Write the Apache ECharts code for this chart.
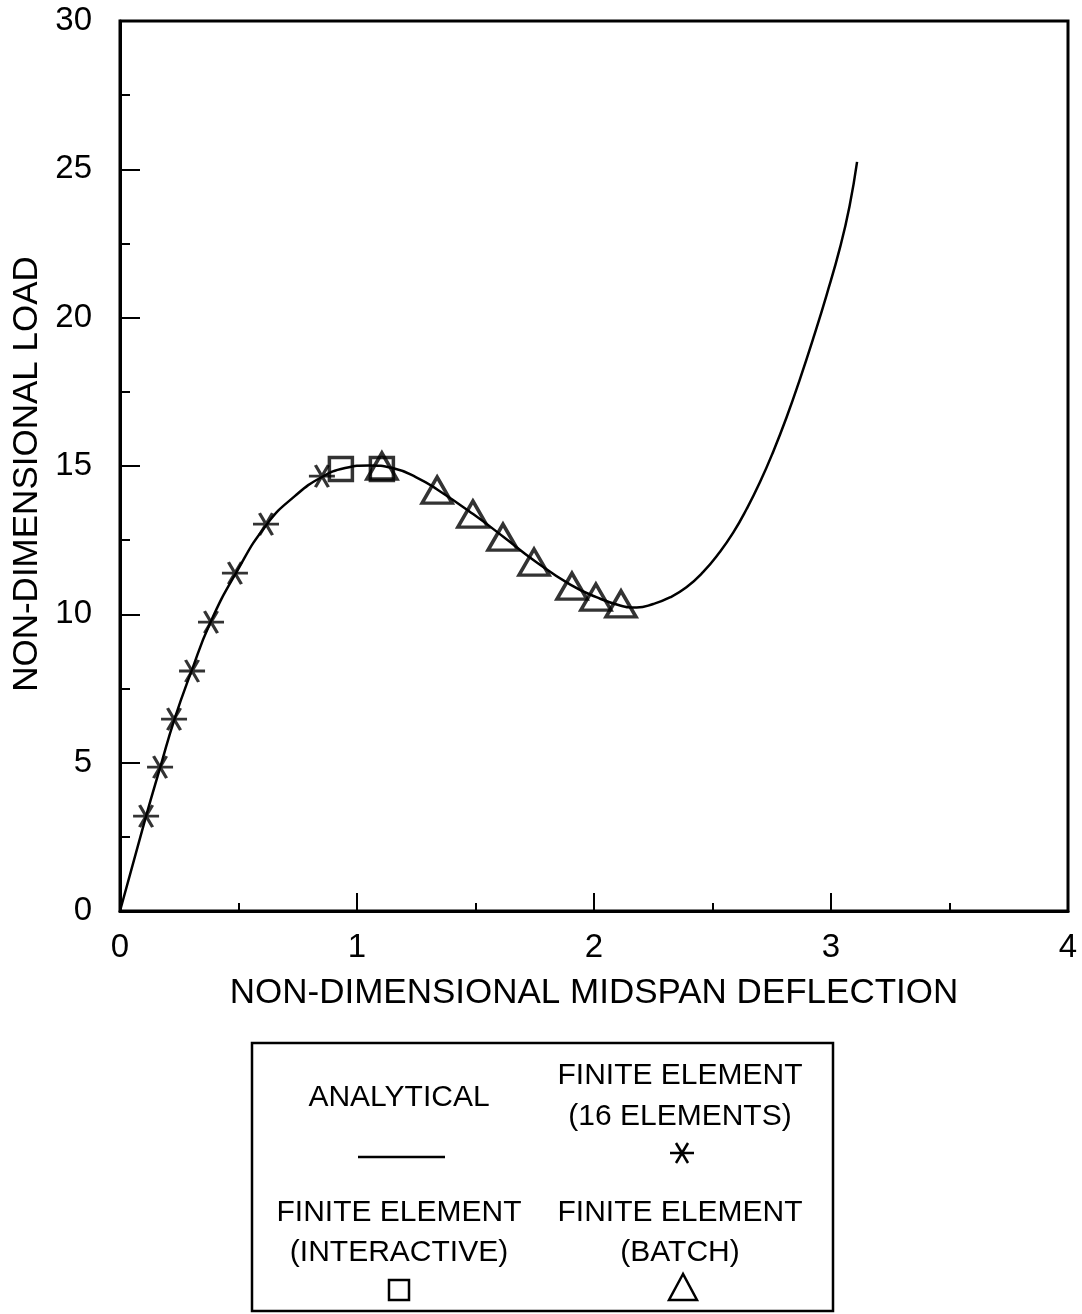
<!DOCTYPE html>
<html>
<head>
<meta charset="utf-8">
<script src="https://cdn.jsdelivr.net/npm/echarts@6/dist/echarts.min.js"></script>
<style>
  html, body { margin: 0; padding: 0; background: #fff; }
  #main { width: 1082px; height: 1314px; }
</style>
</head>
<body>
<div id="main"></div>
<script>
// analytical curve
var curveX = [0, 0.11, 0.17, 0.23, 0.30, 0.38, 0.49, 0.62, 0.74, 0.85, 0.95, 1.05, 1.15, 1.25, 1.34, 1.49, 1.62, 1.75, 1.90, 2.01, 2.11, 2.18, 2.25, 2.32, 2.39, 2.46, 2.53, 2.588, 2.644, 2.70, 2.757, 2.813, 2.869, 2.925, 2.982, 3.038, 3.078, 3.110];
var curveY = [0, 3.2, 4.85, 6.47, 8.05, 9.7, 11.4, 13.04, 14.0, 14.62, 14.93, 15.02, 14.93, 14.62, 14.2, 13.38, 12.6, 11.8, 11.0, 10.58, 10.3, 10.23, 10.35, 10.57, 10.91, 11.42, 12.09, 12.76, 13.55, 14.45, 15.50, 16.65, 17.93, 19.30, 20.78, 22.36, 23.75, 25.25];

// finite element (16 elements)
var starX = [0.110, 0.169, 0.228, 0.304, 0.384, 0.485, 0.616, 0.852];
var starY = [3.20, 4.85, 6.47, 8.09, 9.74, 11.39, 13.04, 14.66];

// finite element (interactive)
var squareX = [0.932, 1.105];
var squareY = [14.9, 14.9];

// finite element (batch)
var triX = [1.105, 1.338, 1.489, 1.616, 1.747, 1.907, 2.008, 2.114];
var triY = [15.0, 14.19, 13.38, 12.60, 11.76, 10.95, 10.58, 10.35];

var font = "'Liberation Sans', Arial, Helvetica, sans-serif";
var starPath = 'path://M0,10 L24,10 M6,0 L18,20 M18,0 L6,20';

function pairs(xs, ys) {
  var out = [];
  for (var i = 0; i < xs.length; i++) out.push([xs[i], ys[i]]);
  return out;
}

var lineStyle = { stroke: '#000', lineWidth: 2.5 };
function legendText(x, y, t) {
  return { type: 'text', x: x, y: y, style: { text: t, font: '30px ' + font, fill: '#000', align: 'center', verticalAlign: 'middle' } };
}

var chart = echarts.init(document.getElementById('main'));

var option = {
  backgroundColor: '#fff',
  animation: false,
  grid: {
    left: 120, right: 14, top: 21, bottom: 403,
    show: true, borderColor: '#000', borderWidth: 3
  },
  xAxis: {
    type: 'value', min: 0, max: 4, interval: 1,
    name: 'NON-DIMENSIONAL MIDSPAN DEFLECTION',
    nameLocation: 'middle', nameGap: 65,
    nameTextStyle: { fontSize: 35, color: '#000', fontFamily: font },
    axisLine: { lineStyle: { color: '#000', width: 3 } },
    axisTick: { inside: true, length: 18, lineStyle: { color: '#000', width: 2 } },
    minorTick: { show: true, splitNumber: 2, length: 8, lineStyle: { color: '#000', width: 2 } },
    axisLabel: { fontSize: 33, color: '#000', margin: 20, fontFamily: font },
    splitLine: { show: false }
  },
  yAxis: {
    type: 'value', min: 0, max: 30, interval: 5,
    name: 'NON-DIMENSIONAL LOAD',
    nameLocation: 'middle', nameGap: 74,
    nameTextStyle: { fontSize: 35, color: '#000', fontFamily: font, padding: [0, 16, 0, 0] },
    axisLine: { lineStyle: { color: '#000', width: 3 } },
    axisTick: { inside: true, length: 20, lineStyle: { color: '#000', width: 2 } },
    minorTick: { show: true, splitNumber: 2, length: 10, lineStyle: { color: '#000', width: 2 } },
    axisLabel: { fontSize: 33, color: '#000', margin: 28, fontFamily: font },
    splitLine: { show: false }
  },
  series: [
    {
      name: 'ANALYTICAL', type: 'line', data: pairs(curveX, curveY),
      smooth: 0.5, showSymbol: false,
      lineStyle: { color: '#000', width: 2.5 }, z: 2
    },
    {
      name: 'FINITE ELEMENT (16 ELEMENTS)', type: 'scatter', data: pairs(starX, starY),
      symbol: starPath, symbolSize: [26, 22],
      itemStyle: { color: 'rgba(0,0,0,0)', borderColor: '#000', borderWidth: 3 }, z: 3
    },
    {
      name: 'FINITE ELEMENT (INTERACTIVE)', type: 'scatter', data: pairs(squareX, squareY),
      symbol: 'rect', symbolSize: 23,
      itemStyle: { color: 'rgba(0,0,0,0)', borderColor: '#000', borderWidth: 3.5 }, z: 3
    },
    {
      name: 'FINITE ELEMENT (BATCH)', type: 'scatter', data: pairs(triX, triY),
      symbol: 'triangle', symbolSize: [30, 26],
      itemStyle: { color: 'rgba(0,0,0,0)', borderColor: '#000', borderWidth: 3.5 }, z: 3
    }
  ],
  graphic: [
    { type: 'rect', shape: { x: 252, y: 1043, width: 581, height: 268 },
      style: { fill: 'none', stroke: '#000', lineWidth: 2.5 } },
    legendText(399, 1098, 'ANALYTICAL'),
    { type: 'line', shape: { x1: 358, y1: 1157, x2: 445, y2: 1157 }, style: lineStyle },
    legendText(680, 1076, 'FINITE ELEMENT'),
    legendText(680, 1117, '(16 ELEMENTS)'),
    // asterisk
    { type: 'line', shape: { x1: 670, y1: 1153, x2: 694, y2: 1153 }, style: lineStyle },
    { type: 'line', shape: { x1: 676, y1: 1143, x2: 688, y2: 1163 }, style: lineStyle },
    { type: 'line', shape: { x1: 688, y1: 1143, x2: 676, y2: 1163 }, style: lineStyle },
    legendText(399, 1213, 'FINITE ELEMENT'),
    legendText(399, 1253, '(INTERACTIVE)'),
    { type: 'rect', shape: { x: 389, y: 1280, width: 20, height: 20 }, style: { fill: 'none', stroke: '#000', lineWidth: 2.5 } },
    legendText(680, 1213, 'FINITE ELEMENT'),
    legendText(680, 1253, '(BATCH)'),
    { type: 'polygon', shape: { points: [[683, 1274], [669, 1300], [697, 1300]] }, style: { fill: 'none', stroke: '#000', lineWidth: 2.5 } }
  ]
};

chart.setOption(option);
</script>
</body>
</html>
